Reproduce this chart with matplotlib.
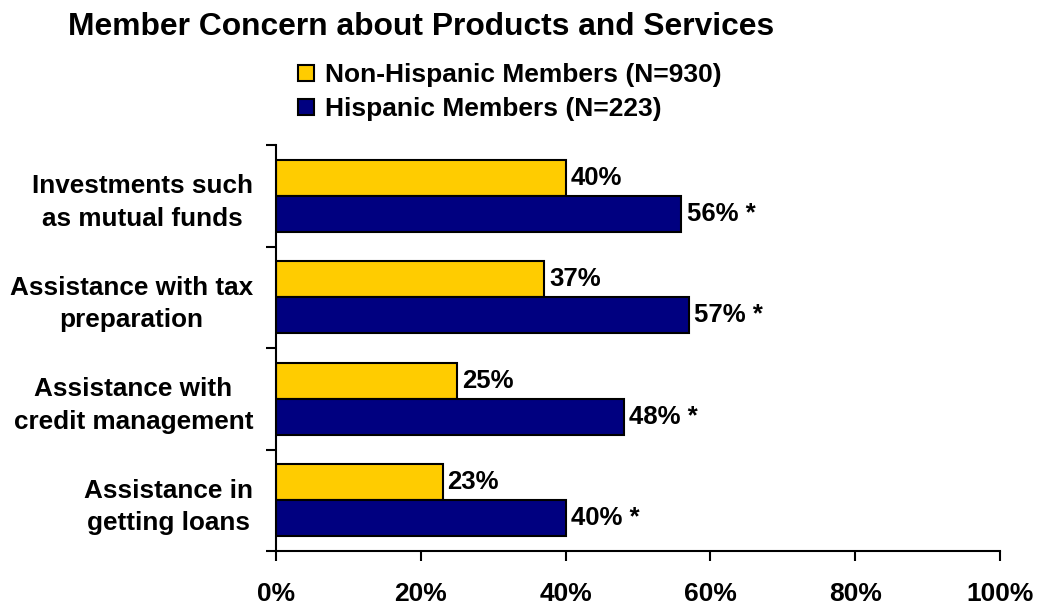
import matplotlib
matplotlib.use("Agg")
import matplotlib.pyplot as plt
import numpy as np
from matplotlib.patches import Rectangle

plt.rcParams['font.family'] = ['Liberation Sans', 'DejaVu Sans']

categories = [
    "Investments such\nas mutual funds",
    "Assistance with tax\npreparation",
    "Assistance with\ncredit management",
    "Assistance in\ngetting loans",
]
non_hispanic = [40, 37, 25, 23]
hispanic = [56, 57, 48, 40]
significant = [True, True, True, True]
series_names = ["Non-Hispanic Members (N=930)", "Hispanic Members (N=223)"]
x_ticks = [0, 20, 40, 60, 80, 100]

yellow = "#FFCC00"
navy = "#000080"

W, H = 1047, 605
fig = plt.figure(figsize=(W / 100, H / 100), dpi=100)
ax = fig.add_axes([276 / W, 1 - 551 / H, 724 / W, 406 / H])

n = len(categories)
centers = np.arange(n)[::-1] + 0.5
h = 0.355

ax.barh(centers + h / 2, non_hispanic, height=h, color=yellow,
        edgecolor="black", linewidth=1.5)
ax.barh(centers - h / 2, hispanic, height=h, color=navy,
        edgecolor="black", linewidth=1.5)

lab_kw = dict(fontsize=18.5, fontweight="bold", va="center", ha="left")
for c, v in zip(centers, non_hispanic):
    ax.text(v + 0.7, c + h / 2, f"{v}%", **lab_kw)
for c, v, s in zip(centers, hispanic, significant):
    ax.text(v + 0.7, c - h / 2, f"{v}%" + (" *" if s else ""), **lab_kw)

ax.set_xlim(0, 100)
ax.set_ylim(0, n)
ax.set_xticks(x_ticks)
ax.set_xticklabels([f"{t}%" for t in x_ticks], fontsize=19, fontweight="bold")
ax.set_yticks(np.arange(n + 1))
ax.set_yticklabels([])
ax.set_yticks(centers, minor=True)
ax.set_yticklabels(categories, minor=True, fontsize=18.8, fontweight="bold",
                   ha="right", linespacing=1.45)
for lbl in ax.get_yticklabels(minor=True):
    lbl.set_multialignment("center")
    lbl.set_y(lbl.get_position()[1])
ax.tick_params(axis="y", which="minor", length=0, pad=16.5)
ax.tick_params(axis="y", which="major", direction="out", length=7, width=1.5)
ax.tick_params(axis="x", direction="out", length=7, width=1.5, pad=15)

for side in ("top", "right"):
    ax.spines[side].set_visible(False)
for side in ("left", "bottom"):
    ax.spines[side].set_linewidth(1.5)

fig.text(421 / W, 1 - 27 / H, "Member Concern about Products and Services",
         fontsize=22.9, fontweight="bold", ha="center", va="center")

# legend: square swatch plus bold label per series
swatch_rows = [(73, yellow), (107, navy)]
for (yc, col), name in zip(swatch_rows, series_names):
    fig.add_artist(Rectangle((298 / W, 1 - (yc + 8) / H), 16 / W, 16 / H,
                             transform=fig.transFigure, facecolor=col,
                             edgecolor="black", linewidth=1.5))
    fig.text(325 / W, 1 - (yc + 2) / H, name, fontsize=19, fontweight="bold",
             ha="left", va="center")

fig.savefig("out.png", dpi=100)
